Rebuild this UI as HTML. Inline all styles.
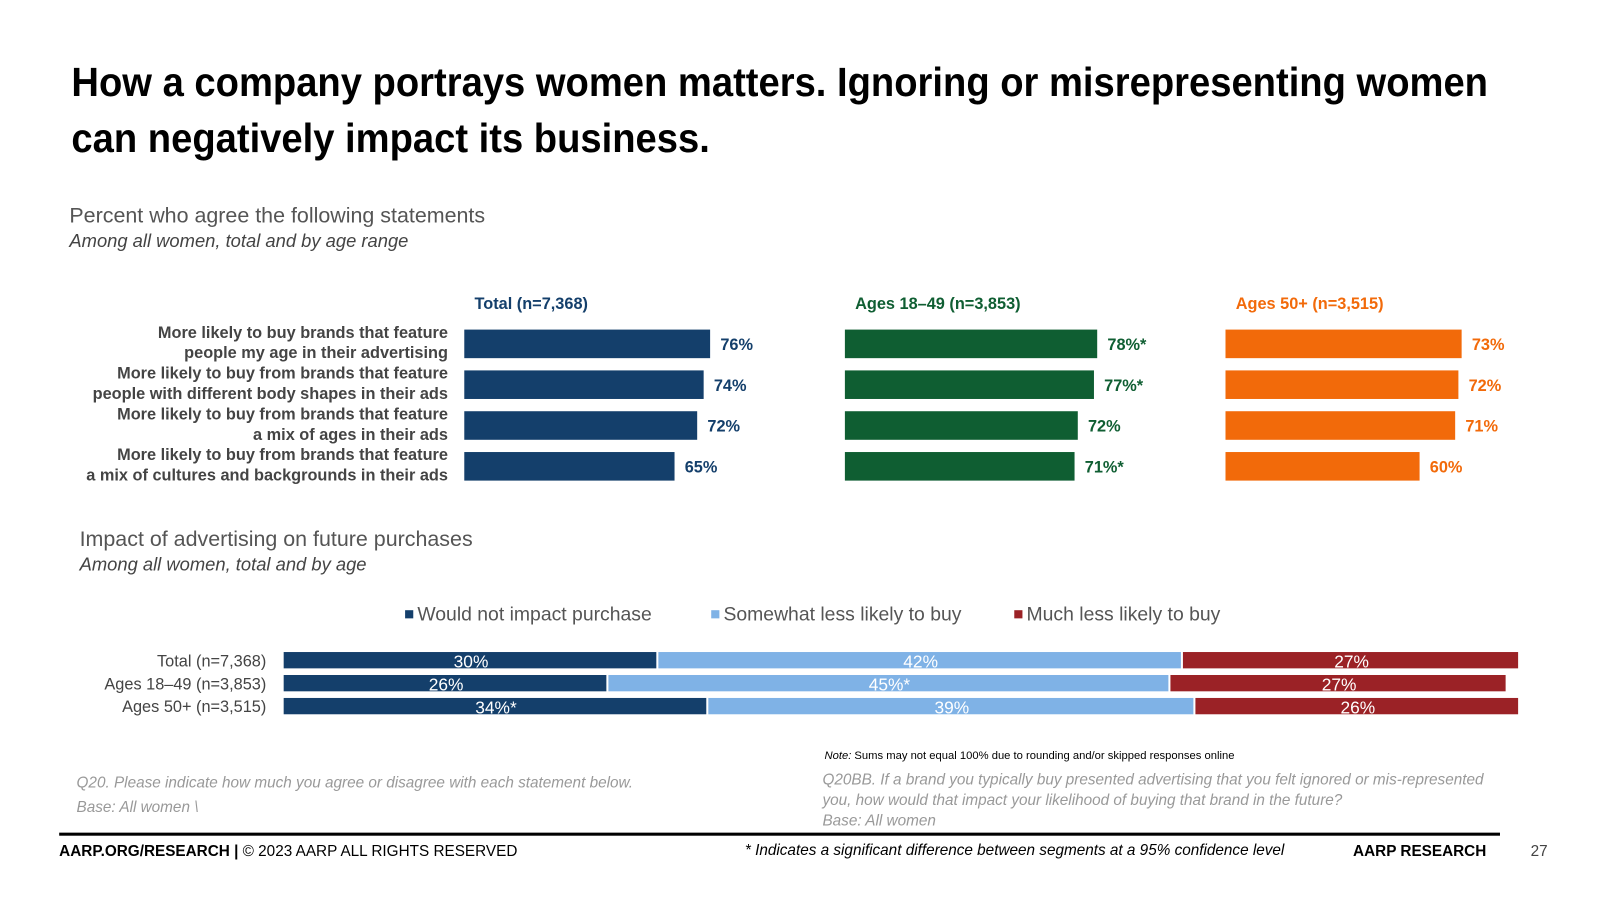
<!DOCTYPE html>
<html><head><meta charset="utf-8">
<style>
body{margin:0;width:1600px;height:900px;background:#fff;font-family:"Liberation Sans",sans-serif;overflow:hidden;position:relative}
#wrap{position:absolute;left:0;top:0;width:1600px;height:900px;transform:scale(1.0204);transform-origin:0 0}
.a{position:absolute;white-space:nowrap}
</style></head><body>
<div id="wrap">
<div class="a" style="left:70px;top:54px;font-size:40px;font-weight:bold;line-height:55px;color:#000;transform:scaleX(0.935);transform-origin:left">How a company portrays women matters. Ignoring or misrepresenting women<br>can negatively impact its business.</div>
<div class="a" style="left:68px;top:200px;font-size:21px;color:#555">Percent who agree the following statements</div>
<div class="a" style="left:68px;top:226px;font-size:18px;font-style:italic;color:#444">Among all women, total and by age range</div>
<div class="a" style="left:78px;top:517px;font-size:21px;color:#555">Impact of advertising on future purchases</div>
<div class="a" style="left:78px;top:543px;font-size:18px;font-style:italic;color:#444">Among all women, total and by age</div>
<svg class="a" style="left:0;top:0" width="1600" height="900" id="chart"></svg>
<div class="a" style="left:808px;top:735px;font-size:11px;color:#000"><i>Note:</i> Sums may not equal 100% due to rounding and/or skipped responses online</div>
<div class="a" style="left:75px;top:756px;font-size:15px;font-style:italic;color:#999;line-height:24px">Q20. Please indicate how much you agree or disagree with each statement below.<br>Base: All women \</div>
<div class="a" style="left:806px;top:755px;font-size:15px;font-style:italic;color:#999;line-height:20px">Q20BB. If a brand you typically buy presented advertising that you felt ignored or mis-represented<br>you, how would that impact your likelihood of buying that brand in the future?<br>Base: All women</div>
<div class="a" style="left:58px;top:816px;width:1412px;height:3px;background:#000"></div>
<div class="a" style="left:58px;top:826px;font-size:15px;color:#000"><b>AARP.ORG/RESEARCH |</b> © 2023 AARP ALL RIGHTS RESERVED</div>
<div class="a" style="left:730px;top:825px;font-size:15px;font-style:italic;color:#000">* Indicates a significant difference between segments at a 95% confidence level</div>
<div class="a" style="left:1326px;top:826px;font-size:15px;font-weight:bold;color:#000">AARP RESEARCH</div>
<div class="a" style="left:1500px;top:826px;font-size:15px;color:#444">27</div>
</div>
<script>
const statements=[["More likely to buy brands that feature","people my age in their advertising"],["More likely to buy from brands that feature","people with different body shapes in their ads"],["More likely to buy from brands that feature","a mix of ages in their ads"],["More likely to buy from brands that feature","a mix of cultures and backgrounds in their ads"]];
const panelTitles=["Total (n=7,368)","Ages 18–49 (n=3,853)","Ages 50+ (n=3,515)"];
const totalVals=[76,74,72,65];
const youngVals=[78,77,72,71];
const olderVals=[73,72,71,60];
const youngSig=[true,true,false,true];
const olderSig=[false,false,false,false];
const totalSig=[false,false,false,false];
const stackCats=["Total (n=7,368)","Ages 18–49 (n=3,853)","Ages 50+ (n=3,515)"];
const seriesNames=["Would not impact purchase","Somewhat less likely to buy","Much less likely to buy"];
const notImpact=[30,26,34];
const somewhat=[42,45,39];
const much=[27,27,26];
const notImpactSig=[false,false,true];
const somewhatSig=[false,true,false];
const muchSig=[false,false,false];

const svg=document.getElementById('chart');const NS='http://www.w3.org/2000/svg';
function el(t,a,txt){const e=document.createElementNS(NS,t);for(const k in a)e.setAttribute(k,a[k]);if(txt!=null)e.textContent=txt;svg.appendChild(e);return e;}
const rowY=i=>337+i*40;
const px=v=>v*3.17;
statements.forEach((s,i)=>{
 const t=el('text',{x:439,y:rowY(i)-6,'text-anchor':'end','font-size':16,fill:'#444','font-weight':'bold'});
 
 t.innerHTML='<tspan x="439">'+s[0]+'</tspan><tspan x="439" dy="20">'+s[1]+'</tspan>';
});
const panels=[[455,totalVals,totalSig,'#143f6b',465],[828,youngVals,youngSig,'#0f5e32',838],[1201,olderVals,olderSig,'#f26a0a',1211]];
panels.forEach((p,pi)=>{
 const t=el('text',{x:p[4],y:303,'font-size':16,'font-weight':'bold',fill:p[3]},panelTitles[pi]);
 
 p[1].forEach((v,i)=>{
  const r=el('rect',{x:p[0],y:rowY(i)-14,width:px(v),height:28,fill:p[3]});
  
  const l=el('text',{x:p[0]+px(v)+10,y:rowY(i)+6,'font-size':16,'font-weight':'bold',fill:p[3]},v+'%'+(p[2][i]?'*':''));
  
 });
});
const cols=['#143f6b','#7fb2e6','#9b2226'];
const legX=[397,697,994];
seriesNames.forEach((n,i)=>{
 const r=el('rect',{x:legX[i],y:598,width:8,height:8,fill:cols[i]});
 
 const t=el('text',{x:legX[i]+12,y:608,'font-size':19,fill:'#555'},n);
 
});
const sx=v=>v*12.24;const sy=i=>647+i*22.5;
const series=[[notImpact,notImpactSig],[somewhat,somewhatSig],[much,muchSig]];
stackCats.forEach((c,i)=>{
 const t=el('text',{x:261,y:sy(i)+6,'text-anchor':'end','font-size':16,fill:'#444'},c);
 
 let x=278;
 series.forEach((s,k)=>{
  const v=s[0][i];
  const r=el('rect',{x:x,y:sy(i)-8,width:sx(v)-2,height:16,fill:cols[k]});
  
  const l=el('text',{x:x+sx(v)/2,y:sy(i)+7,'text-anchor':'middle','font-size':17,fill:'#fff'},v+'%'+(s[1][i]?'*':''));
  
  x+=sx(v);
 });
});
</script>
</body></html>
